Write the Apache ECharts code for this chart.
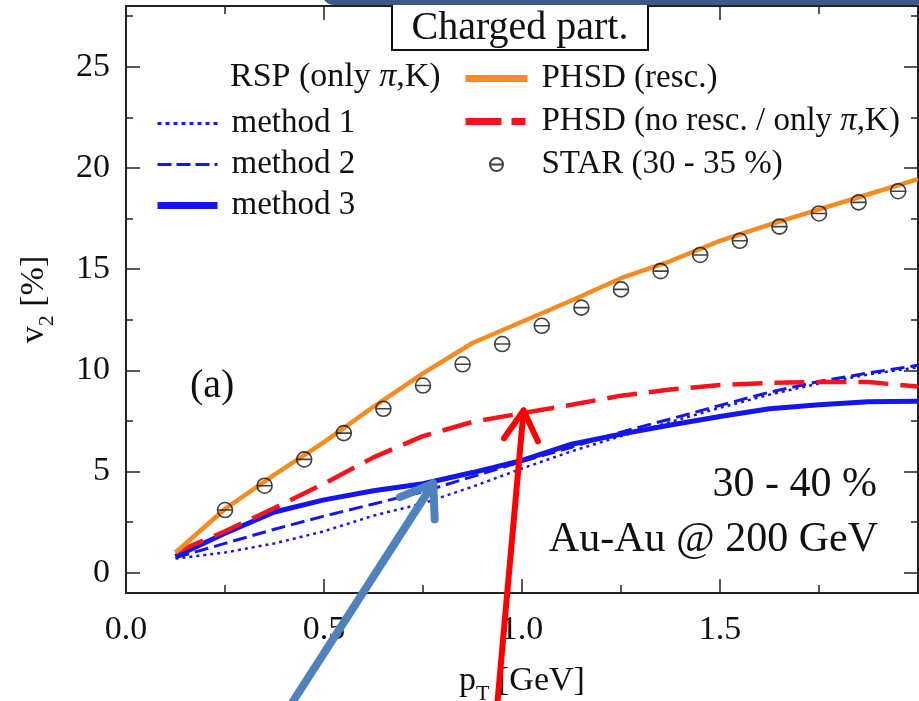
<!DOCTYPE html>
<html>
<head>
<meta charset="UTF-8">
<title>v2 of charged particles</title>
<script src="https://cdn.jsdelivr.net/npm/echarts@6/dist/echarts.min.js"></script>
<style>
  html, body { margin: 0; padding: 0; background: #fff; }
  #chart { width: 919px; height: 701px; }
</style>
</head>
<body>
<div id="chart"></div>
<script>
// model curves are sampled at the same pT grid
var ptModel = [0.125, 0.25, 0.375, 0.5, 0.625, 0.75, 0.875, 1.0, 1.125, 1.25, 1.375, 1.5, 1.625, 1.75, 1.875, 2.0];
var phsdResc   = [1.0, 3.15, 4.85, 6.45, 8.2, 9.85, 11.35, 12.4, 13.45, 14.55, 15.4, 16.4, 17.2, 17.95, 18.7, 19.45];
var phsdNoResc = [1.0, 2.05, 3.2, 4.4, 5.7, 6.75, 7.45, 7.88, 8.3, 8.75, 9.05, 9.28, 9.38, 9.42, 9.42, 9.2];
var method1 = [0.7, 1.0, 1.45, 2.05, 2.82, 3.43, 4.25, 5.15, 6.0, 6.75, 7.45, 8.15, 8.8, 9.35, 9.8, 10.15];
var method2 = [0.75, 1.45, 2.15, 2.8, 3.4, 4.0, 4.75, 5.5, 6.2, 6.95, 7.6, 8.27, 8.92, 9.45, 9.87, 10.25];
var method3 = [0.8, 1.95, 3.0, 3.6, 4.05, 4.4, 4.95, 5.55, 6.35, 6.85, 7.3, 7.72, 8.1, 8.3, 8.45, 8.47];

// STAR data (30 - 35 %)
var starPt = [0.25, 0.35, 0.45, 0.55, 0.65, 0.75, 0.85, 0.95, 1.05, 1.15, 1.25, 1.35, 1.45, 1.55, 1.65, 1.75, 1.85, 1.95];
var starV2 = [3.1, 4.3, 5.6, 6.9, 8.1, 9.25, 10.3, 11.3, 12.2, 13.1, 14.0, 14.9, 15.7, 16.4, 17.1, 17.75, 18.3, 18.85];

var yMajor = [0, 5, 10, 15, 20, 25];
var yMinor = [2.5, 7.5, 12.5, 17.5, 22.5, 27.5];

// annotation arrows: [tail, tip] in data units
var arrowBlue = [[0.42, -6.4], [0.776, 4.41]];
var arrowRed = [[0.938, -6.4], [1.004, 8.02]];

var FONT = 'Liberation Serif';
var INK = '#111';
var BLUE = '#1515f0', RED = '#f5141c', ORANGE = '#f68b1f';

function pairs(xs, ys) {
    var res = [];
    for (var i = 0; i < xs.length; i++) res.push([xs[i], ys[i]]);
    return res;
}

var chart = echarts.init(document.getElementById('chart'));

var nameRich = {
    a: { fontFamily: FONT, fontSize: 34, color: INK, lineHeight: 48 },
    s: { fontFamily: FONT, fontSize: 22, color: INK, lineHeight: 22, verticalAlign: 'bottom' }
};

function xAx(pos, labels) {
    return {
        type: 'value', position: pos, min: 0, max: 2, interval: 0.5,
        axisLine: { onZero: false, lineStyle: { color: '#222', width: 2 } },
        axisTick: { inside: true, length: 14, lineStyle: { color: '#222', width: 1.5 } },
        minorTick: { show: true, splitNumber: 2, length: 8, lineStyle: { color: '#222', width: 1.5 } },
        splitLine: { show: false },
        axisLabel: {
            show: labels, showMaxLabel: false, margin: 20,
            fontFamily: FONT, fontSize: 34, color: INK,
            formatter: function (v) { return v.toFixed(1); }
        },
        name: labels ? '{a|p}{s|T}{a| [GeV]}' : '',
        nameLocation: 'middle', nameGap: 64,
        nameTextStyle: { rich: nameRich }
    };
}

function yAx(pos, vals, len, line, labels) {
    return {
        type: 'value', position: pos, min: -1, max: 28,
        axisLine: { show: line, onZero: false, lineStyle: { color: '#222', width: 2 } },
        axisTick: { inside: true, length: len, customValues: vals, lineStyle: { color: '#222', width: 1.5 } },
        splitLine: { show: false },
        axisLabel: {
            show: labels, customValues: vals, margin: 16,
            fontFamily: FONT, fontSize: 34, color: INK
        },
        name: labels ? '{a|v}{s|2}{a| [%]}' : '',
        nameLocation: 'middle', nameGap: 68, nameRotate: 90,
        nameTextStyle: { rich: nameRich }
    };
}

var legendText = {
    fontFamily: FONT, fontSize: 33, color: INK, lineHeight: 30, padding: [0, 0, 0, 9],
    rich: { i: { fontFamily: FONT, fontSize: 33, fontStyle: 'italic', color: INK } }
};
var piFmt = function (name) { return name.replace('π', '{i|π}'); };
var noDot = { opacity: 0 };

var option = {
    animation: false,
    backgroundColor: '#fff',
    grid: { left: 126, right: 1, top: 6, bottom: 108, outerBoundsMode: 'none' },
    xAxis: [xAx('bottom', true), xAx('top', false)],
    yAxis: [
        yAx('left', yMajor, 14, true, true),
        yAx('left', yMinor, 7, false, false),
        yAx('right', yMajor, 14, true, false),
        yAx('right', yMinor, 7, false, false)
    ],
    legend: [
        {
            left: 154, top: 107, orient: 'vertical', padding: 0,
            itemWidth: 60, itemHeight: 14, itemGap: 8, selectedMode: false,
            data: [
                { name: 'method 1', itemStyle: noDot, lineStyle: { width: 3, type: [4, 4] } },
                { name: 'method 2', itemStyle: noDot, lineStyle: { width: 3, type: [14, 5] } },
                { name: 'method 3', itemStyle: noDot, lineStyle: { width: 7 } }
            ],
            textStyle: legendText, formatter: piFmt
        },
        {
            left: 462, top: 62, orient: 'vertical', padding: 0,
            itemWidth: 62, itemHeight: 13, itemGap: 10, selectedMode: false,
            data: [
                { name: 'PHSD (resc.)', itemStyle: noDot, lineStyle: { width: 7 } },
                { name: 'PHSD (no resc. / only π,K)', itemStyle: noDot, lineStyle: { width: 7, type: [36, 10, 14, 10] } },
                { name: 'STAR (30 - 35 %)' }
            ],
            textStyle: legendText, formatter: piFmt
        }
    ],
    series: [
        {
            name: 'method 1', type: 'line', symbol: 'none', data: pairs(ptModel, method1),
            itemStyle: { color: BLUE }, lineStyle: { color: BLUE, width: 2.5, type: [3, 4] }, z: 3
        },
        {
            name: 'method 2', type: 'line', symbol: 'none', data: pairs(ptModel, method2),
            itemStyle: { color: BLUE }, lineStyle: { color: BLUE, width: 3, type: [14, 6] }, z: 3
        },
        {
            name: 'method 3', type: 'line', symbol: 'none', data: pairs(ptModel, method3),
            itemStyle: { color: BLUE }, lineStyle: { color: BLUE, width: 5 }, z: 3
        },
        {
            name: 'PHSD (no resc. / only π,K)', type: 'line', symbol: 'none', data: pairs(ptModel, phsdNoResc),
            itemStyle: { color: RED }, lineStyle: { color: RED, width: 4.5, type: [30, 12] }, z: 4
        },
        {
            name: 'PHSD (resc.)', type: 'line', symbol: 'none', data: pairs(ptModel, phsdResc),
            itemStyle: { color: ORANGE }, lineStyle: { color: ORANGE, width: 4.5 }, z: 4
        },
        {
            name: 'STAR (30 - 35 %)', type: 'scatter',
            symbol: 'path://M0,8A8,8 0 1,1 16,8A8,8 0 1,1 0,8ZM0,8L16,8',
            symbolSize: 15, data: pairs(starPt, starV2),
            itemStyle: { color: 'rgba(0,0,0,0)', borderColor: '#111', borderWidth: 1.6 }, z: 5
        }
    ]
};

chart.setOption(option);

function arrow(pts, color, width, head, ang) {
    var a = chart.convertToPixel({ xAxisIndex: 0, yAxisIndex: 0 }, pts[0]);
    var b = chart.convertToPixel({ xAxisIndex: 0, yAxisIndex: 0 }, pts[1]);
    var dx = a[0] - b[0], dy = a[1] - b[1];
    var l = Math.sqrt(dx * dx + dy * dy);
    dx /= l; dy /= l;
    var r = ang * Math.PI / 180;
    var w1 = [b[0] + head * (dx * Math.cos(r) - dy * Math.sin(r)), b[1] + head * (dx * Math.sin(r) + dy * Math.cos(r))];
    var w2 = [b[0] + head * (dx * Math.cos(-r) - dy * Math.sin(-r)), b[1] + head * (dx * Math.sin(-r) + dy * Math.cos(-r))];
    var st = { stroke: color, lineWidth: width, lineCap: 'round', lineJoin: 'round', fill: null };
    return [
        { type: 'line', z: 100, shape: { x1: a[0], y1: a[1], x2: b[0], y2: b[1] }, style: st },
        { type: 'polyline', z: 100, shape: { points: [w1, b, w2] }, style: st }
    ];
}

var txt = function (x, y, text, size, align) {
    return {
        type: 'text', x: x, y: y, z: 50,
        style: {
            text: text, fontFamily: FONT, fontSize: size, fill: INK,
            align: align || 'left', verticalAlign: 'middle',
            rich: { i: { fontFamily: FONT, fontSize: size, fontStyle: 'italic', fill: INK } }
        }
    };
};

var graphics = [
    { type: 'rect', z: 40, shape: { x: 392, y: -4, width: 256, height: 54 },
      style: { fill: '#fff', stroke: '#111', lineWidth: 2 } },
    txt(520, 28, 'Charged part.', 40, 'center'),
    txt(230, 77, 'RSP (only {i|π},K)', 34),
    txt(190, 386, '(a)', 40),
    txt(877, 485, '30 - 40 %', 42, 'right'),
    txt(878, 540, 'Au-Au @ 200 GeV', 42, 'right'),
    { type: 'rect', z: 60, shape: { x: 322, y: -20, width: 640, height: 25, r: 12 },
      style: { fill: '#3b5a88' } }
];
graphics = graphics.concat(arrow(arrowBlue, '#4f81bd', 8, 36, 35));
graphics = graphics.concat(arrow(arrowRed, '#ff0000', 6, 34, 30));

chart.setOption({ graphic: graphics });
</script>
</body>
</html>
